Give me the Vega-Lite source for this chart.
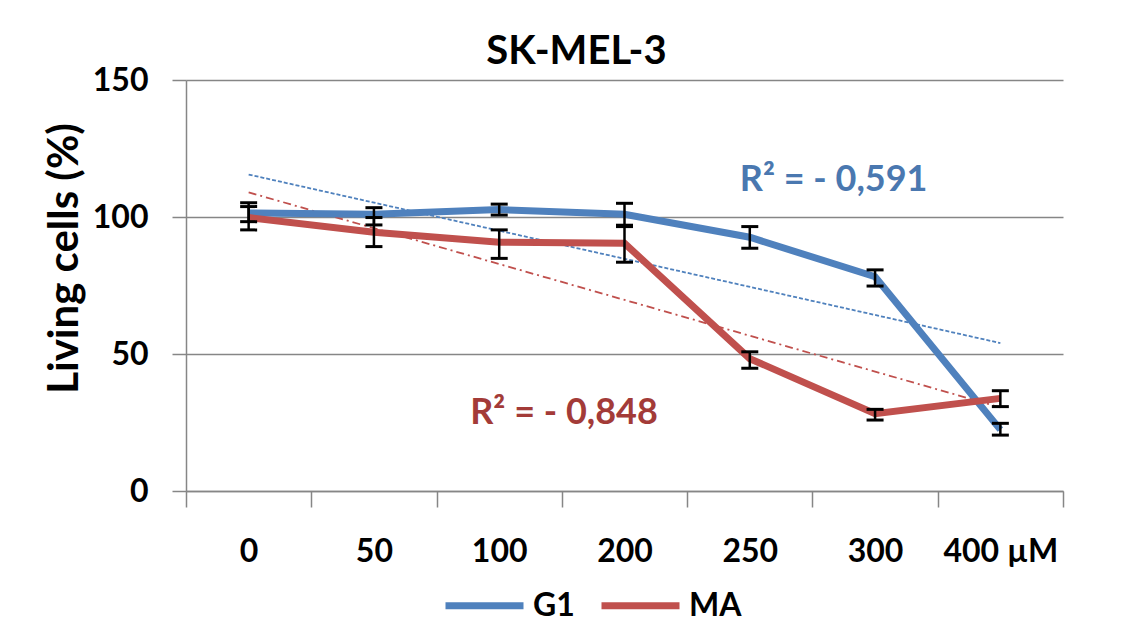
{
  "$schema": "https://vega.github.io/schema/vega-lite/v6.json",
  "width": 877,
  "height": 411,
  "autosize": {"type": "none"},
  "padding": {"left": 186, "top": 80, "right": 58, "bottom": 134},
  "background": "white",
  "config": {"font": "Lato", "view": {"stroke": null}},
  "title": {"text": "SK-MEL-3", "fontSize": 40, "fontWeight": "bold", "font": "Lato", "color": "#000000", "anchor": "middle", "dx": -48, "offset": -8},
  "datasets": {
    "main": [
      {"dose": "0", "series": "G1", "value": 101.5, "lo": 98.3, "hi": 105.2},
      {"dose": "50", "series": "G1", "value": 101.0, "lo": 97.1, "hi": 103.4},
      {"dose": "100", "series": "G1", "value": 102.7, "lo": 100.7, "hi": 104.7},
      {"dose": "200", "series": "G1", "value": 101.0, "lo": 97.0, "hi": 105.0},
      {"dose": "250", "series": "G1", "value": 92.6, "lo": 88.6, "hi": 96.5},
      {"dose": "300", "series": "G1", "value": 78.2, "lo": 74.8, "hi": 80.7},
      {"dose": "400 µM", "series": "G1", "value": 22.4, "lo": 20.4, "hi": 24.7},
      {"dose": "0", "series": "MA", "value": 99.8, "lo": 95.3, "hi": 103.8},
      {"dose": "50", "series": "MA", "value": 94.4, "lo": 89.2, "hi": 99.8},
      {"dose": "100", "series": "MA", "value": 90.8, "lo": 84.9, "hi": 95.3},
      {"dose": "200", "series": "MA", "value": 90.4, "lo": 83.5, "hi": 96.5},
      {"dose": "250", "series": "MA", "value": 48.3, "lo": 44.8, "hi": 50.8},
      {"dose": "300", "series": "MA", "value": 28.2, "lo": 25.9, "hi": 29.8},
      {"dose": "400 µM", "series": "MA", "value": 33.8, "lo": 30.8, "hi": 36.6}
    ],
    "trend": [
      {"dose": "0", "series": "G1", "value": 115.5},
      {"dose": "400 µM", "series": "G1", "value": 54.0},
      {"dose": "0", "series": "MA", "value": 109.0},
      {"dose": "400 µM", "series": "MA", "value": 30.5}
    ],
    "notes": [
      {"dose": "250", "series": "G1", "value": 113.5, "label": "R² = - 0,591"},
      {"dose": "100", "series": "MA", "value": 28.5, "label": "R² = - 0,848"}
    ]
  },
  "encoding": {
    "x": {
      "field": "dose", "type": "nominal", "bandPosition": 0.5,
      "sort": ["0", "50", "100", "200", "250", "300", "400 µM"],
      "scale": {"type": "band", "domain": ["0", "50", "100", "200", "250", "300", "400 µM"], "paddingInner": 0, "paddingOuter": 0},
      "axis": {"title": null, "labelAngle": 0, "tickBand": "extent", "domainColor": "#868686", "domainWidth": 1.5, "tickColor": "#868686", "tickWidth": 1.5, "tickSize": 16, "labelFontSize": 32, "labelFontWeight": "bold", "labelColor": "#000000", "labelPadding": 29, "grid": false}
    },
    "y": {
      "field": "value", "type": "quantitative",
      "scale": {"domain": [0, 150], "nice": false, "zero": true},
      "axis": {"title": "Living cells (%)", "titleFontSize": 42, "titleFontWeight": "bold", "titleColor": "#000000", "titlePadding": 6, "titleY": 178, "values": [0, 50, 100, 150], "grid": true, "gridColor": "#868686", "gridWidth": 1.5, "domainColor": "#868686", "domainWidth": 1.5, "tickColor": "#868686", "tickWidth": 1.5, "tickSize": 14, "labelFontSize": 32, "labelFontWeight": "bold", "labelColor": "#000000", "labelPadding": 24}
    }
  },
  "layer": [
    {
      "data": {"name": "trend"},
      "transform": [{"filter": "datum.series === 'G1'"}],
      "mark": {"type": "line", "color": "#4F81BD", "strokeWidth": 1.8, "strokeDash": [4, 2]},
      "encoding": {}
    },
    {
      "data": {"name": "trend"},
      "transform": [{"filter": "datum.series === 'MA'"}],
      "mark": {"type": "line", "color": "#C0504D", "strokeWidth": 1.8, "strokeDash": [8, 4, 2, 4]},
      "encoding": {}
    },
    {
      "data": {"name": "main"},
      "mark": {"type": "line", "strokeWidth": 7},
      "encoding": {
        "color": {
          "field": "series", "type": "nominal",
          "scale": {"domain": ["G1", "MA"], "range": ["#4F81BD", "#C0504D"]},
          "legend": {"orient": "none", "legendX": 256, "legendY": 483, "direction": "horizontal", "title": null, "symbolType": "stroke", "symbolStrokeWidth": 7, "symbolSize": 6084, "labelFontSize": 32, "labelFontWeight": "bold", "labelColor": "#000000", "labelOffset": 6, "columnPadding": 12, "symbolOpacity": 1}
        }
      }
    },
    {
      "data": {"name": "main"},
      "mark": {"type": "rule", "color": "#000000", "strokeWidth": 2.5},
      "encoding": {"y": {"field": "lo", "type": "quantitative"}, "y2": {"field": "hi"}}
    },
    {
      "data": {"name": "main"},
      "mark": {"type": "tick", "color": "#000000", "size": 17, "thickness": 3, "opacity": 1},
      "encoding": {"y": {"field": "lo", "type": "quantitative"}}
    },
    {
      "data": {"name": "main"},
      "mark": {"type": "tick", "color": "#000000", "size": 17, "thickness": 3, "opacity": 1},
      "encoding": {"y": {"field": "hi", "type": "quantitative"}}
    },
    {
      "data": {"name": "notes"},
      "transform": [{"filter": "datum.series === 'G1'"}],
      "mark": {"type": "text", "color": "#4A78B0", "fontSize": 36, "fontWeight": "bold", "align": "left", "baseline": "middle", "dx": -10},
      "encoding": {"text": {"field": "label"}}
    },
    {
      "data": {"name": "notes"},
      "transform": [{"filter": "datum.series === 'MA'"}],
      "mark": {"type": "text", "color": "#A33B38", "fontSize": 36, "fontWeight": "bold", "align": "left", "baseline": "middle", "dx": -29},
      "encoding": {"text": {"field": "label"}}
    }
  ]
}
